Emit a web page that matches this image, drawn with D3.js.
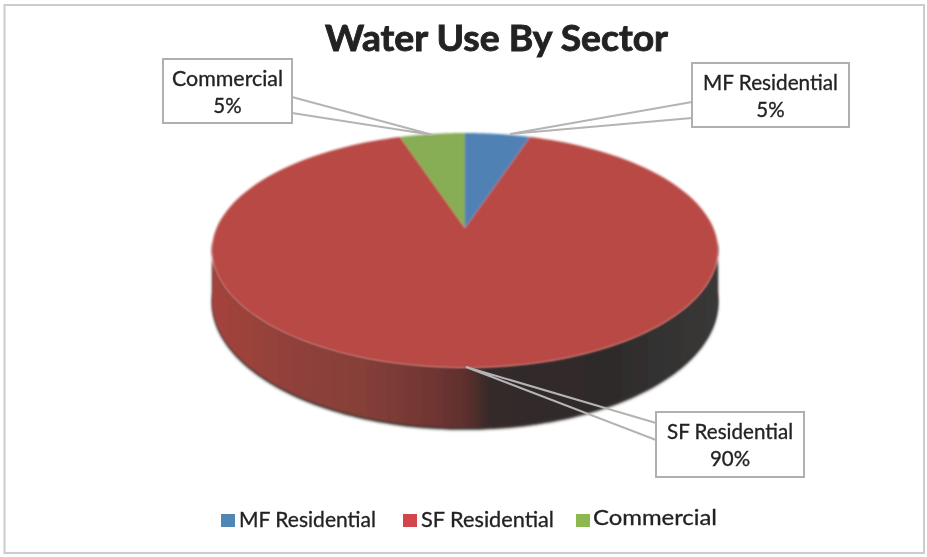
<!DOCTYPE html>
<html>
<head>
<meta charset="utf-8">
<script src="https://cdn.jsdelivr.net/npm/d3@7/dist/d3.min.js"></script>
<style>
html,body{margin:0;padding:0;background:#fff;overflow:hidden}
svg{display:block}
text{font-family:Lato,"Open Sans",sans-serif;fill:#222;stroke:#222;stroke-width:.3px}
text.title{stroke-width:.9px}
</style>
</head>
<body>
<svg id="c" width="927" height="557"></svg>
<script>
const titleText = "Water Use By Sector";
const categories = ["MF Residential", "SF Residential", "Commercial"];
const values = [5, 90, 5];
const labels = ["5%", "90%", "5%"];
const colors = ["#4f81b5", "#b94a45", "#87ad55"];
const legendColors = ["#4f86b3", "#d2444e", "#8cb850"];

const svg = d3.select("#c");
const defs = svg.append("defs");
const soft = defs.append("filter").attr("id","soft").attr("x","-5%").attr("y","-5%").attr("width","110%").attr("height","110%");
soft.append("feGaussianBlur").attr("stdDeviation",0.8);
const soft2 = defs.append("filter").attr("id","soft2").attr("x","-5%").attr("y","-5%").attr("width","110%").attr("height","110%");
soft2.append("feGaussianBlur").attr("stdDeviation",1.8);
const txt = defs.append("filter").attr("id","txt");
txt.append("feGaussianBlur").attr("stdDeviation",0.35);

// frame
svg.append("rect").attr("x",4.5).attr("y",5).attr("width",919.5).attr("height",548)
  .attr("fill","#fff").attr("stroke","#cccccc").attr("stroke-width",2);

// perspective projection of the pie disc
const cx = 465, cy = 228, R = 248.4, K = 113.2, P = 0.1915, D = 50;
const project = (a, r, drop) => {
  const u = Math.sin(a) * r, v = -Math.cos(a) * r, s = 1 / (1 - P * v);
  return [cx + R * u * s, cy + K * v * s + drop * s];
};
const pie = d3.pie().sort(null).value(d => d);
const arcs = pie(values);
const line = d3.line();
const sampled = (a0, a1, n) => d3.range(n + 1).map(i => a0 + (a1 - a0) * i / n);

// side gradient
const grad = defs.append("linearGradient").attr("id","side").attr("gradientUnits","userSpaceOnUse")
  .attr("x1",212).attr("x2",718).attr("y1",0).attr("y2",0);
[[0,"#a5423c"],[0.12,"#94423b"],[0.3,"#853f39"],[0.44,"#6f3532"],[0.5,"#5f2f2d"],[0.55,"#352b2b"],[0.8,"#2e2c2c"],[1,"#3a3838"]]
  .forEach(([o,c]) => grad.append("stop").attr("offset",o).attr("stop-color",c));

// side wall
const a0 = Math.PI * 0.54, a1 = Math.PI * 1.46;
const topRim = sampled(a0, a1, 120).map(a => project(a, 1, 0));
const botRim = sampled(a1, a0, 120).map(a => project(a, 1, D));
const g3d = svg.append("g");
g3d.append("path").attr("d", line(topRim.concat(botRim)) + "Z")
  .attr("fill","#3b3533").attr("filter","url(#soft2)");
g3d.append("path").attr("d", line(topRim.concat(botRim.map(p => [p[0], p[1] - 2]))) + "Z")
  .attr("fill","url(#side)").attr("filter","url(#soft)");

// top face
const gTop = svg.append("g").attr("filter","url(#soft)");
gTop.selectAll("path.slice").data(arcs).join("path").attr("class","slice")
  .attr("d", d => line([[cx, cy]].concat(sampled(d.startAngle, d.endAngle, 160).map(a => project(a, 1, 0)))) + "Z")
  .attr("fill", (d, i) => colors[i]);

// callouts
const callouts = [
  {i:0, x:692, y:63, w:157, h:64, t1:[692,102], t2:[692,118], tip:[510,134], tw:135},
  {i:1, x:656, y:412, w:148, h:65, t1:[656,423], t2:[656,440], tip:[466,367], tw:126},
  {i:2, x:163, y:59, w:129, h:64, t1:[292,97], t2:[292,113], tip:[433,135], tw:111}
];
const gc = svg.append("g");
callouts.forEach(c => {
  gc.append("path").attr("d", line([c.t1, c.tip, c.t2])).attr("fill","none")
    .attr("stroke","#b4b4b4").attr("stroke-width",2);
  gc.append("rect").attr("x",c.x).attr("y",c.y).attr("width",c.w).attr("height",c.h)
    .attr("fill","#fff").attr("stroke","#b0b0b0").attr("stroke-width",2);
  const mx = c.x + c.w / 2;
  gc.append("text").attr("x",mx).attr("y",c.y + 27).attr("text-anchor","middle")
    .attr("font-size",20.5).attr("textLength",c.tw).attr("lengthAdjust","spacingAndGlyphs")
    .attr("filter","url(#txt)").text(categories[c.i]);
  gc.append("text").attr("x",mx).attr("y",c.y + 54).attr("text-anchor","middle")
    .attr("font-size",20.5).attr("filter","url(#txt)").text(labels[c.i]);
});

// title
svg.append("text").attr("class","title").attr("x",496.5).attr("y",51).attr("text-anchor","middle")
  .attr("font-size",37).attr("font-weight",700).attr("textLength",343).attr("lengthAdjust","spacingAndGlyphs")
  .attr("filter","url(#txt)").text(titleText);

// legend
const legendX = [221, 403, 576];
const legendW = [137, 133, 124];
const lg = svg.append("g");
categories.forEach((c, i) => {
  lg.append("rect").attr("x",legendX[i]).attr("y",514).attr("width",14).attr("height",13)
    .attr("fill",legendColors[i]).attr("filter","url(#txt)");
  lg.append("text").attr("x",legendX[i] + (i === 2 ? 17 : 18)).attr("y",i === 2 ? 525 : 527)
    .attr("font-size",i === 2 ? 22 : 21).attr("textLength",legendW[i]).attr("lengthAdjust","spacingAndGlyphs")
    .attr("filter","url(#txt)").text(c);
});
</script>
</body>
</html>
